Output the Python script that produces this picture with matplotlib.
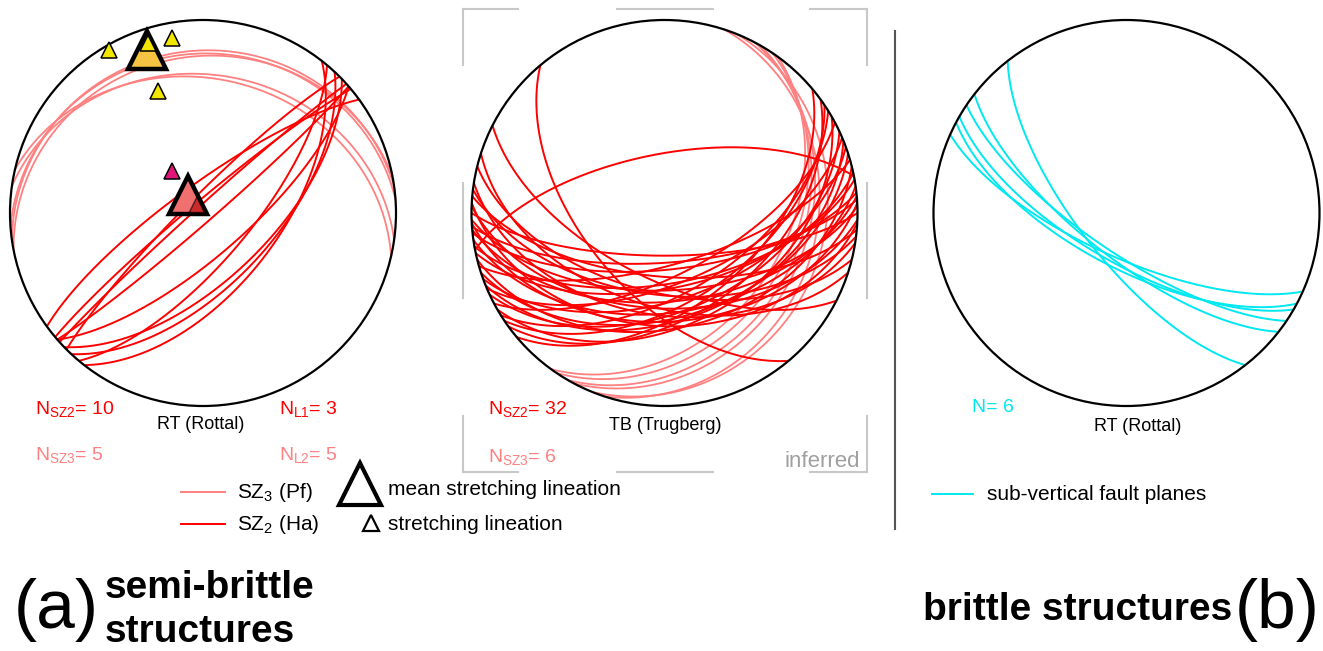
import numpy as np
import matplotlib
matplotlib.use('Agg')
import matplotlib.pyplot as plt
from matplotlib.patches import Circle

plt.rcParams['font.family'] = ['Liberation Sans', 'DejaVu Sans']
plt.rcParams['mathtext.default'] = 'regular'

W, H = 1323, 651

# planes as (dip direction, dip) in degrees
# RT (Rottal) semi-brittle
rt_sz3_dipdir = [352, 356, 349, 8, 13]
rt_sz3_dip = [17, 18.5, 20, 29, 31]
rt_sz2_dipdir = [324, 320, 318, 315, 139, 139, 130, 133, 128, 136]
rt_sz2_dip = [78, 85, 87, 83, 86, 72, 70, 60, 58, 62]

# lineations (trend, plunge)
rt_l2_trend = [330, 350, 340, 342]
rt_l2_plunge = [2.5, 9, 33, 8]
rt_l2_mean = (341, 11.5)
rt_l1_trend = [323, 323]
rt_l1_plunge = [86, 68]
rt_l1_mean = (320, 80)

# TB (Trugberg)
tb_sz2_dipdir = [207, 198, 194,
                 140, 144, 148, 150, 152, 155, 157, 160, 162, 164, 166, 168, 146, 158,
                 170, 172, 174, 175, 177, 178, 180, 182, 183, 185, 187, 189, 176,
                 349, 230]
tb_sz2_dip = [62, 50, 56,
              50, 46, 56, 42, 64, 48, 60, 53, 45, 68, 40, 58, 52, 44,
              60, 47, 66, 52, 43, 57, 72, 49, 41, 63, 55, 46, 69,
              65, 56]
tb_sz3_dipdir = [120, 118, 124, 112, 126, 108]
tb_sz3_dip = [30, 27, 34, 18, 38, 22]

# RT brittle faults
rt_fault_dipdir = [232, 204, 210, 214, 218, 208]
rt_fault_dip = [70, 71, 69, 73, 71, 67]

RED = '#ff0000'
PINK = '#ff8080'
CYAN = '#00e8f0'


def project(trend, plunge):
    t = np.radians(trend)
    p = np.radians(plunge)
    r = np.sqrt(2) * np.sin((np.pi / 2 - p) / 2)
    return r * np.sin(t), r * np.cos(t)


def great_circle(dipdir, dip, n=300):
    dd = np.radians(dipdir)
    d = np.radians(dip)
    st = dd - np.pi / 2
    rake = np.linspace(0, np.pi, n)
    e = np.cos(rake) * np.sin(st) + np.sin(rake) * np.sin(dd) * np.cos(d)
    nn = np.cos(rake) * np.cos(st) + np.sin(rake) * np.cos(dd) * np.cos(d)
    z = np.sin(rake) * np.sin(d)
    plunge = np.degrees(np.arcsin(np.clip(z, -1, 1)))
    trend = np.degrees(np.arctan2(e, nn))
    return project(trend, plunge)


fig = plt.figure(figsize=(W / 100, H / 100), dpi=100)
bg = fig.add_axes([0, 0, 1, 1])
bg.set_xlim(0, W)
bg.set_ylim(H, 0)
bg.axis('off')


def net(cx, cy, R=193):
    ax = fig.add_axes([(cx - R) / W, 1 - (cy + R) / H, 2 * R / W, 2 * R / H])
    ax.set_xlim(-1, 1)
    ax.set_ylim(-1, 1)
    ax.axis('off')
    ax.add_patch(Circle((0, 0), 1, fill=False, lw=1.6, ec='k', zorder=5, clip_on=False))
    return ax


def planes(ax, dds, dips, color, lw=1.4):
    for a, b in zip(dds, dips):
        x, y = great_circle(a, b)
        ax.plot(x, y, color=color, lw=lw, solid_capstyle='butt')


# ---- net 1: RT semi-brittle
ax1 = net(203, 213)
planes(ax1, rt_sz3_dipdir, rt_sz3_dip, PINK, 1.3)
planes(ax1, rt_sz2_dipdir, rt_sz2_dip, RED, 1.4)
x, y = project(*rt_l2_mean)
ax1.plot(x, y, '^', ms=27, mfc='#f5c443', mec='k', mew=3.2, clip_on=False, zorder=6)
x, y = project(np.array(rt_l2_trend), np.array(rt_l2_plunge))
ax1.plot(x, y, '^', ms=11, mfc='#f2e600', mec='k', mew=1.1, ls='none', clip_on=False, zorder=7)
x, y = project(*rt_l1_mean)
ax1.plot(x, y, '^', ms=27, mfc='#f07070', mec='k', mew=3.2, clip_on=False, zorder=6)
x, y = project(rt_l1_trend[0], rt_l1_plunge[0])
ax1.plot(x, y, '^', ms=11, mfc='#b00000', mec='k', mew=1.1, alpha=0.6, clip_on=False, zorder=7)
x, y = project(rt_l1_trend[1], rt_l1_plunge[1])
ax1.plot(x, y, '^', ms=11, mfc='#e0157a', mec='k', mew=1.1, clip_on=False, zorder=7)

# ---- net 2: TB
ax2 = net(664.5, 213)
planes(ax2, tb_sz3_dipdir, tb_sz3_dip, PINK, 1.3)
planes(ax2, tb_sz2_dipdir, tb_sz2_dip, RED, 1.4)

# ---- net 3: RT brittle
ax3 = net(1126.5, 213)
planes(ax3, rt_fault_dipdir, rt_fault_dip, CYAN, 1.4)

# inferred bracket around net 2
g = '#c8c8c8'
for xa, xb in [(463, 518), (617, 713), (810, 867)]:
    bg.plot([xa, xb], [9, 9], color=g, lw=1.5)
    bg.plot([xa, xb], [472, 472], color=g, lw=1.5)
for ya, yb in [(9, 65), (183, 298), (416, 472)]:
    bg.plot([463, 463], [ya, yb], color=g, lw=1.5)
    bg.plot([867, 867], [ya, yb], color=g, lw=1.5)
bg.text(860, 467, 'inferred', color='#a0a0a0', fontsize=16, ha='right', va='baseline')

# divider
bg.plot([895, 895], [31, 529], color='#555555', lw=1.5)

# counts / labels
fs = 14
bg.text(35, 414, 'N$_{SZ2}$= 10', color=RED, fontsize=fs, va='baseline')
bg.text(279, 414, 'N$_{L1}$= 3', color=RED, fontsize=fs, va='baseline')
bg.text(35, 460, 'N$_{SZ3}$= 5', color=PINK, fontsize=fs, va='baseline')
bg.text(279, 460, 'N$_{L2}$= 5', color=PINK, fontsize=fs, va='baseline')
bg.text(201, 429, 'RT (Rottal)', fontsize=13, ha='center', va='baseline')
bg.text(488, 414, 'N$_{SZ2}$= 32', color=RED, fontsize=fs, va='baseline')
bg.text(488, 462, 'N$_{SZ3}$= 6', color=PINK, fontsize=fs, va='baseline')
bg.text(665, 430, 'TB (Trugberg)', fontsize=13, ha='center', va='baseline')
bg.text(972, 412, 'N= 6', color=CYAN, fontsize=fs, va='baseline')
bg.text(1138, 431, 'RT (Rottal)', fontsize=13, ha='center', va='baseline')

# legend (a)
bg.plot([181, 225], [492, 492], color=PINK, lw=1.4)
bg.text(237, 498, 'SZ$_3$ (Pf)', fontsize=15, va='baseline')
bg.plot([181, 225], [524, 524], color=RED, lw=1.4)
bg.text(237, 530, 'SZ$_2$ (Ha)', fontsize=15, va='baseline')
bg.plot(360, 484, '^', ms=30, mfc='white', mec='k', mew=3)
bg.text(388, 495, 'mean stretching lineation', fontsize=15, va='baseline')
bg.plot(371, 523, '^', ms=12, mfc='white', mec='k', mew=1.6)
bg.text(388, 530, 'stretching lineation', fontsize=15, va='baseline')

# legend (b)
bg.plot([932, 973], [494, 494], color=CYAN, lw=1.4)
bg.text(987, 500, 'sub-vertical fault planes', fontsize=15, va='baseline')

# panel titles
bg.text(14, 610, '(a)', fontsize=50, va='center')
bg.text(105, 598, 'semi-brittle', fontsize=28, fontweight='bold', va='baseline')
bg.text(105, 642, 'structures', fontsize=28, fontweight='bold', va='baseline')
bg.text(1232, 620, 'brittle structures', fontsize=28, fontweight='bold', ha='right', va='baseline')
bg.text(1320, 610, '(b)', fontsize=50, ha='right', va='center')

fig.savefig('out.png', dpi=100)
